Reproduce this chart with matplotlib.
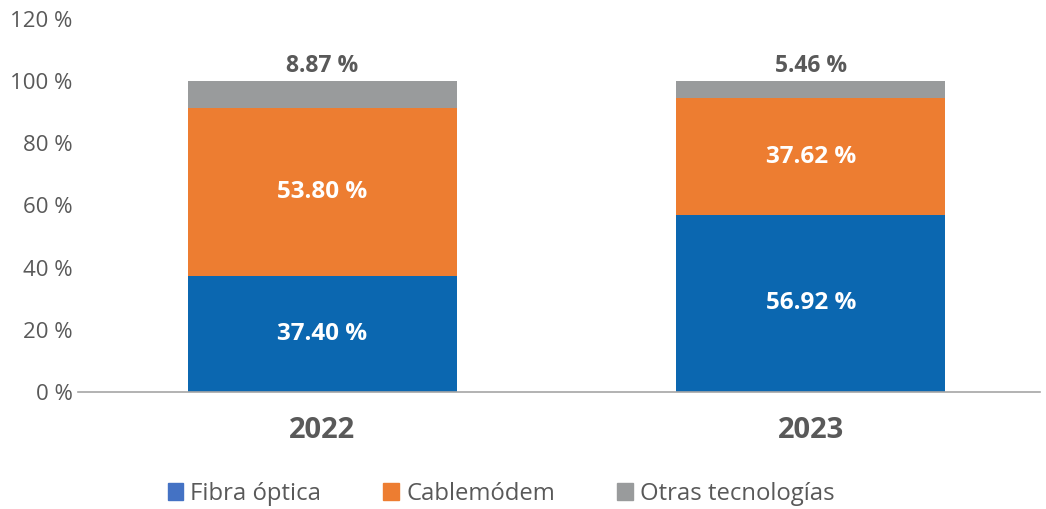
import numpy as np
import matplotlib
matplotlib.use("Agg")
import matplotlib.pyplot as plt
from matplotlib.patches import Patch

plt.rcParams['font.family'] = ['Open Sans', 'DejaVu Sans']

years = ["2022", "2023"]
fibra = [37.40, 56.92]
cable = [53.80, 37.62]
otras = [8.87, 5.46]
series_names = ["Fibra óptica", "Cablemódem", "Otras tecnologías"]

c_fibra = "#0B67B0"
c_cable = "#ED7D31"
c_otras = "#999B9C"
txt = "#595959"

fig = plt.figure(figsize=(10.46, 5.09), dpi=100)
ax = fig.add_axes([0.0746, 0.23, 0.92, 0.7327])

x = np.arange(len(years))
w = 0.55
b1 = ax.bar(x, fibra, w, color=c_fibra)
b2 = ax.bar(x, cable, w, bottom=fibra, color=c_cable)
bottom3 = np.array(fibra) + np.array(cable)
b3 = ax.bar(x, otras, w, bottom=bottom3, color=c_otras)

for i in range(len(years)):
    ax.text(x[i], fibra[i] / 2, f"{fibra[i]:.2f} %", ha="center", va="center",
            color="white", fontsize=17.5, fontweight="bold")
    ax.text(x[i], fibra[i] + cable[i] / 2, f"{cable[i]:.2f} %", ha="center", va="center",
            color="white", fontsize=17.5, fontweight="bold")
    ax.text(x[i], bottom3[i] + otras[i] + 1, f"{otras[i]:.2f} %", ha="center", va="bottom",
            color=txt, fontsize=16.5, fontweight="bold")

ax.set_ylim(0, 120)
ax.set_xlim(-0.5, 1.47)
ax.set_yticks(range(0, 121, 20))
ax.set_yticklabels([f"{v} %" for v in range(0, 121, 20)], fontsize=16, color=txt)
ax.set_xticks(x)
ax.set_xticklabels(years, fontsize=21, fontweight="bold", color=txt)
ax.tick_params(axis="y", length=0, pad=4)
ax.tick_params(axis="x", length=0, pad=17)
for s in ["top", "right", "left"]:
    ax.spines[s].set_visible(False)
ax.spines["bottom"].set_color("#A6A6A6")
ax.spines["bottom"].set_linewidth(1.2)

handles = [Patch(color="#4472C4"), Patch(color=c_cable), Patch(color=c_otras)]
fig.legend(handles, series_names, loc="center", bbox_to_anchor=(0.479, 0.03),
           ncol=3, frameon=False, fontsize=17.2, labelcolor=txt,
           handlelength=0.65, handleheight=0.75, handletextpad=0.3, columnspacing=2.6)

fig.savefig("out.png", dpi=100)
